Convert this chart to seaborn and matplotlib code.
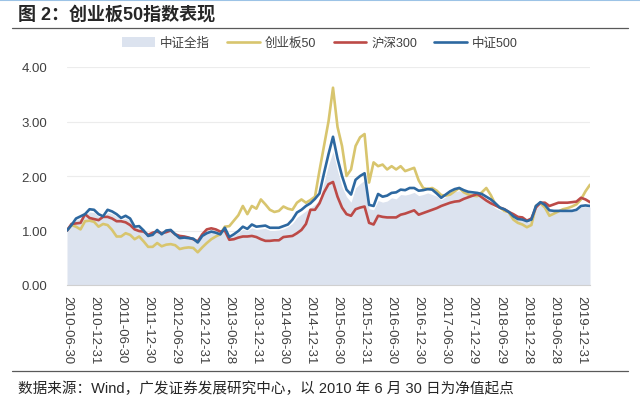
import numpy as np
import pandas as pd
import matplotlib
matplotlib.use("Agg")
import matplotlib.pyplot as plt
from matplotlib.patches import Patch
from matplotlib.lines import Line2D
import seaborn as sns

# ---------------- data (monthly, 2010-06 .. 2020-02) ----------------
tick_labels = ["2010-06-30", "2010-12-31", "2011-06-30", "2011-12-30", "2012-06-29",
               "2012-12-31", "2013-06-28", "2013-12-31", "2014-06-30", "2014-12-31",
               "2015-06-30", "2015-12-31", "2016-06-30", "2016-12-30", "2017-06-30",
               "2017-12-29", "2018-06-29", "2018-12-28", "2019-06-28", "2019-12-31"]

csi_all = [1.00, 1.09, 1.19, 1.22, 1.27, 1.34, 1.33, 1.26, 1.23, 1.33,
           1.31, 1.26, 1.20, 1.23, 1.18, 1.05, 1.05, 0.98, 0.90, 0.92,
           0.99, 0.92, 0.98, 0.99, 0.92, 0.86, 0.86, 0.85, 0.84, 0.78,
           0.89, 0.95, 0.97, 0.95, 0.92, 1.02, 0.87, 0.91, 0.96, 1.02,
           1.00, 1.05, 1.02, 1.03, 1.04, 1.00, 1.00, 1.01, 1.03, 1.07,
           1.13, 1.24, 1.30, 1.36, 1.42, 1.48, 1.56, 1.88, 2.20, 2.45,
           2.10, 1.80, 1.62, 1.52, 1.78, 1.86, 1.92, 1.40, 1.38, 1.55,
           1.52, 1.54, 1.60, 1.58, 1.66, 1.65, 1.67, 1.70, 1.64, 1.66,
           1.69, 1.66, 1.63, 1.56, 1.62, 1.67, 1.71, 1.73, 1.68, 1.66,
           1.66, 1.63, 1.62, 1.56, 1.48, 1.41, 1.37, 1.34, 1.30, 1.23,
           1.19, 1.18, 1.15, 1.17, 1.40, 1.48, 1.44, 1.35, 1.34, 1.34,
           1.35, 1.35, 1.35, 1.37, 1.43, 1.44, 1.43]

chinext50 = [1.00, 1.10, 1.07, 1.02, 1.17, 1.18, 1.16, 1.07, 1.12, 1.10,
             1.01, 0.89, 0.89, 0.95, 0.92, 0.84, 0.89, 0.80, 0.70, 0.70,
             0.77, 0.71, 0.74, 0.75, 0.73, 0.66, 0.68, 0.69, 0.68, 0.60,
             0.69, 0.77, 0.84, 0.89, 0.93, 1.07, 1.08, 1.18, 1.28, 1.45,
             1.30, 1.45, 1.40, 1.57, 1.48, 1.38, 1.34, 1.36, 1.44, 1.40,
             1.38, 1.51, 1.57, 1.51, 1.56, 1.62, 2.10, 2.55, 3.00, 3.62,
             2.90, 2.55, 2.00, 2.12, 2.55, 2.71, 2.77, 1.88, 2.25, 2.18,
             2.21, 2.12, 2.18, 2.12, 2.18, 2.09, 2.12, 2.15, 1.92, 1.78,
             1.76, 1.78, 1.73, 1.65, 1.64, 1.66, 1.72, 1.78, 1.70, 1.66,
             1.64, 1.63, 1.70, 1.78, 1.65, 1.48, 1.42, 1.36, 1.33, 1.20,
             1.14, 1.11, 1.06, 1.10, 1.45, 1.50, 1.42, 1.27, 1.31, 1.35,
             1.39, 1.41, 1.44, 1.48, 1.57, 1.72, 1.84]

hs300 = [1.00, 1.12, 1.13, 1.14, 1.30, 1.23, 1.21, 1.19, 1.25, 1.25,
         1.22, 1.17, 1.17, 1.15, 1.10, 1.02, 0.99, 0.98, 0.92, 0.96,
         0.98, 0.95, 0.97, 1.00, 0.93, 0.90, 0.89, 0.87, 0.84, 0.80,
         0.93, 1.02, 1.04, 1.02, 0.98, 1.00, 0.83, 0.84, 0.87, 0.89,
         0.89, 0.90, 0.88, 0.84, 0.81, 0.81, 0.82, 0.82, 0.88, 0.89,
         0.90, 0.95, 1.01, 1.12, 1.38, 1.38, 1.50, 1.70, 1.85, 1.89,
         1.62, 1.42, 1.30, 1.27, 1.39, 1.42, 1.44, 1.14, 1.11, 1.27,
         1.25, 1.24, 1.24, 1.24, 1.29, 1.31, 1.34, 1.37, 1.29, 1.32,
         1.35, 1.38, 1.41, 1.45, 1.48, 1.51, 1.53, 1.54, 1.58, 1.61,
         1.64, 1.67, 1.61, 1.55, 1.50, 1.46, 1.42, 1.39, 1.34, 1.30,
         1.25, 1.24, 1.18, 1.22, 1.42, 1.51, 1.51, 1.45, 1.48, 1.51,
         1.51, 1.51, 1.52, 1.53, 1.60, 1.57, 1.52]

csi500 = [1.00, 1.10, 1.22, 1.26, 1.30, 1.39, 1.38, 1.30, 1.26, 1.38,
          1.35, 1.30, 1.23, 1.27, 1.22, 1.07, 1.08, 1.00, 0.90, 0.92,
          1.01, 0.93, 1.00, 1.01, 0.93, 0.86, 0.87, 0.86, 0.85, 0.78,
          0.90, 0.95, 0.98, 0.96, 0.93, 1.05, 0.88, 0.93, 0.99, 1.07,
          1.03, 1.11, 1.07, 1.08, 1.09, 1.05, 1.05, 1.05, 1.08, 1.11,
          1.20, 1.33, 1.38, 1.45, 1.50, 1.58, 1.68, 2.05, 2.40, 2.72,
          2.32, 2.00, 1.75, 1.66, 1.93, 2.00, 2.05, 1.47, 1.45, 1.67,
          1.62, 1.64, 1.69, 1.70, 1.75, 1.74, 1.78, 1.78, 1.73, 1.74,
          1.76, 1.75, 1.68, 1.60, 1.66, 1.72, 1.76, 1.78, 1.74, 1.71,
          1.70, 1.69, 1.67, 1.62, 1.57, 1.50, 1.42, 1.39, 1.34, 1.26,
          1.21, 1.20, 1.17, 1.20, 1.45, 1.52, 1.47, 1.37, 1.36, 1.36,
          1.36, 1.36, 1.36, 1.38, 1.45, 1.46, 1.45]

series_names = ["中证全指", "创业板50", "沪深300", "中证500"]
line_colors = {"创业板50": "#D8C56E", "沪深300": "#BC4A47", "中证500": "#2D68A0"}
area_color = "#DCE3EF"

month = np.arange(len(csi500))
tick_pos = np.arange(0, len(csi500), 6)[:len(tick_labels)]

long = pd.DataFrame({
    "m": np.concatenate([month, month, month]),
    "v": np.concatenate([chinext50, hs300, csi500]),
    "s": ["创业板50"] * len(month) + ["沪深300"] * len(month) + ["中证500"] * len(month),
})

# ---------------- style ----------------
sns.set_style("white")
plt.rcParams["font.family"] = ["Liberation Sans", "Noto Sans CJK SC"]
plt.rcParams["axes.unicode_minus"] = False

fig = plt.figure(figsize=(6.4, 4.06), dpi=100)
ax = fig.add_axes([67 / 640, 1 - 286 / 406, 523 / 640, 218 / 406])

ax.fill_between(month, 0, csi_all, color=area_color, linewidth=0, zorder=1)
sns.lineplot(data=long, x="m", y="v", hue="s", hue_order=["创业板50", "沪深300", "中证500"],
             palette=line_colors, linewidth=1.9, ax=ax, legend=False, zorder=3)

ax.set_xlim(0, len(month) - 1)
ax.set_ylim(0, 4.0)
ax.set_yticks([0, 1, 2, 3, 4])
ax.set_yticklabels([f"{v:.2f}" for v in [0, 1, 2, 3, 4]])
ax.set_xticks(tick_pos)
ax.set_xticklabels(tick_labels, rotation=-90, fontsize=9.5, color="#404040")
ax.set_xticks(month, minor=True)
ax.tick_params(axis="x", which="both", length=3, color="#c8c8c8", width=0.8, pad=4)
ax.tick_params(axis="y", length=0, labelsize=9.5, labelcolor="#404040", pad=14)
ax.set_xlabel("")
ax.set_ylabel("")
ax.yaxis.grid(True, color="#ececec", linewidth=0.8, zorder=0)
ax.set_axisbelow(True)
for sp in ["left", "right", "top"]:
    ax.spines[sp].set_visible(False)
ax.spines["bottom"].set_color("#d0d0d0")
ax.spines["bottom"].set_linewidth(0.8)

# legend
handles = [Patch(facecolor=area_color, edgecolor="none")] + \
          [Line2D([0], [0], color=line_colors[n], linewidth=1.9) for n in series_names[1:]]
fig.legend(handles, series_names, loc="center", bbox_to_anchor=(0.5, 1 - 44 / 406), ncol=4,
           frameon=False, fontsize=9, handlelength=2.6, handleheight=0.8, columnspacing=1.4,
           handletextpad=0.4, labelcolor="#404040")

# title and frame lines
fig.add_artist(Line2D([0, 1], [1 - 1 / 406, 1 - 1 / 406], color="#9CC3E6", linewidth=1.5))
fig.text(18 / 640, 1 - 15 / 406, "图 2：创业板50指数表现", fontsize=13, fontweight="bold",
         color="#262626", va="center", ha="left")
fig.add_artist(Line2D([12 / 640, 628 / 640], [1 - 29 / 406, 1 - 29 / 406], color="#595959", linewidth=0.9))
fig.add_artist(Line2D([12 / 640, 628 / 640], [1 - 372 / 406, 1 - 372 / 406], color="#595959", linewidth=0.9))
fig.text(18 / 640, 1 - 389 / 406, "数据来源：Wind，广发证券发展研究中心，以 2010 年 6 月 30 日为净值起点",
         fontsize=10.5, color="#262626", va="center", ha="left")

fig.savefig("out.png", dpi=100)
